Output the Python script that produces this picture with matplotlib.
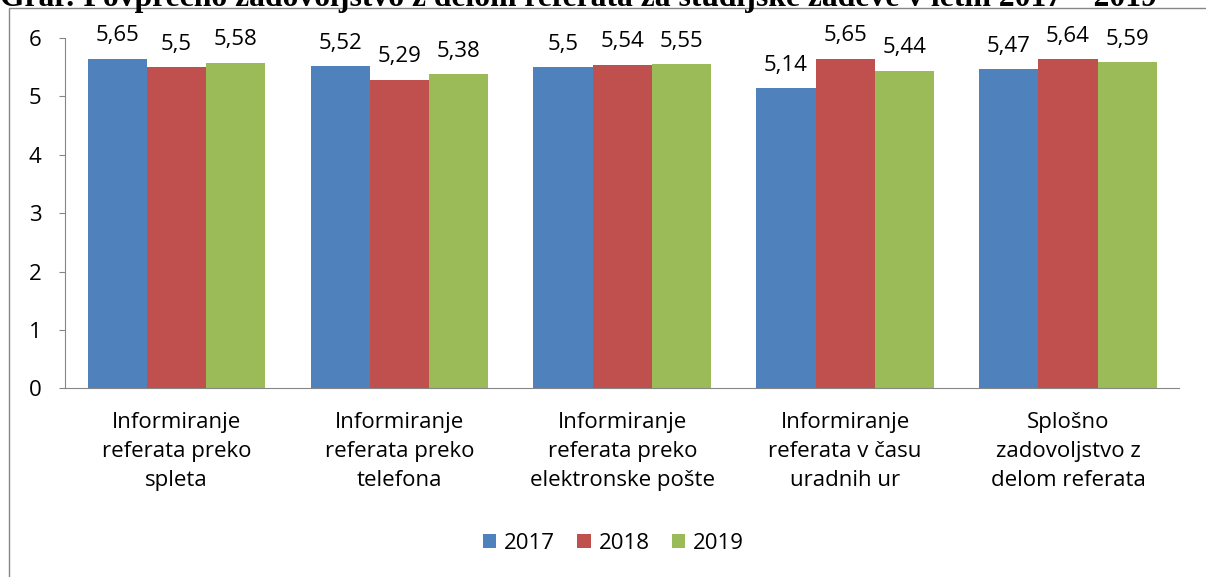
import matplotlib.pyplot as plt
from matplotlib.patches import Rectangle
import numpy as np

plt.rcParams['font.family'] = ['Open Sans', 'DejaVu Sans']

categories = ['Informiranje\nreferata preko\nspleta',
              'Informiranje\nreferata preko\ntelefona',
              'Informiranje\nreferata preko\nelektronske pošte',
              'Informiranje\nreferata v času\nuradnih ur',
              'Splošno\nzadovoljstvo z\ndelom referata']
years = ['2017', '2018', '2019']
v2017 = [5.65, 5.52, 5.5, 5.14, 5.47]
v2018 = [5.5, 5.29, 5.54, 5.65, 5.64]
v2019 = [5.58, 5.38, 5.55, 5.44, 5.59]
colors = ['#4F81BD', '#C0504D', '#9BBB59']

fig = plt.figure(figsize=(12.06, 5.77), dpi=100)
ax = fig.add_axes([0.054, 0.327, 0.924, 0.607])

x = np.arange(len(categories))
w = 0.266
for i, (vals, yr) in enumerate(zip([v2017, v2018, v2019], years)):
    bars = ax.bar(x + (i - 1) * w, vals, w, color=colors[i], label=yr)
    ax.bar_label(bars, labels=[f'{v:g}'.replace('.', ',') for v in vals],
                 padding=9, fontsize=16)

ax.set_xlim(-0.5, 4.5)
ax.set_ylim(0, 6)
ax.set_yticks(range(7))
ax.set_xticks(x)
ax.set_xticklabels(categories, fontsize=16, linespacing=1.5)
ax.tick_params(axis='x', length=0, pad=17)
ax.tick_params(axis='y', labelsize=16, length=4, color='#868686', pad=13)
for s in ['top', 'right']:
    ax.spines[s].set_visible(False)
for s in ['left', 'bottom']:
    ax.spines[s].set_color('#868686')

ax.legend(loc='center', bbox_to_anchor=(0.492, -0.443), ncol=3, frameon=False,
          fontsize=16, handlelength=0.6, handleheight=0.6, handletextpad=0.35,
          columnspacing=1.0)

fig.patches.append(Rectangle((0.0075, -0.1), 1.1, 1.086, transform=fig.transFigure,
                             fill=False, edgecolor='#868686', linewidth=1))
fig.text(0.0, 0.9896, 'Graf: Povprečno zadovoljstvo z delom referata za študijske zadeve v letih 2017 – 2019',
         fontsize=22.8, fontweight='bold', family='Liberation Serif', va='baseline', ha='left')

fig.savefig('out.png', dpi=100)
